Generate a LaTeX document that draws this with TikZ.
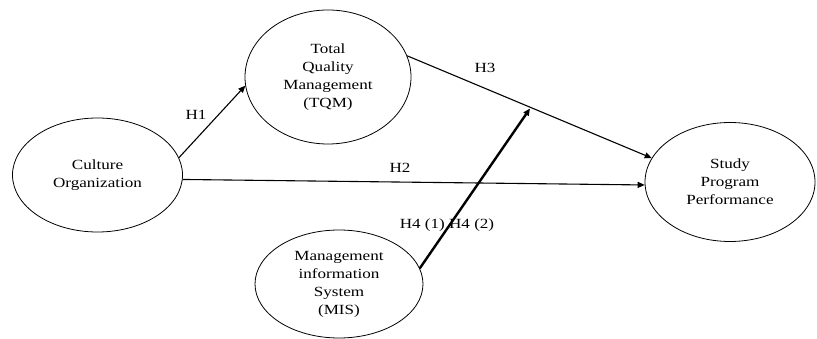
\documentclass[tikz,border=0pt]{standalone}
\usepackage{fontspec}
\setmainfont{Liberation Serif}[FakeStretch=1.22]
\usepackage{tikz}
\usetikzlibrary{arrows.meta, shapes.geometric}

\begin{document}
\begin{tikzpicture}[
    x=1pt, y=-1pt,
    >={Triangle[length=7pt, width=6pt]},
    latent/.style={draw, ellipse, thick, inner sep=0pt, align=center, font=\fontsize{14}{18}\selectfont},
    hyp/.style={font=\fontsize{14}{18}\selectfont},
]
    \useasboundingbox (0,0) rectangle (817,339);
    \node[latent, minimum width=170pt, minimum height=114pt] (culture) at (97.5,175) {Culture\\Organization};
    \node[latent, minimum width=166pt, minimum height=134pt] (tqm) at (328,77) {Total\\Quality\\Management\\(TQM)};
    \node[latent, minimum width=170pt, minimum height=119pt] (spp) at (730,182) {Study\\Program\\Performance};
    \node[latent, minimum width=168pt, minimum height=108pt] (mis) at (339,284) {Management\\information\\System\\(MIS)};
    \coordinate (mod) at (530,108.5);
    \draw[->, line width=1.1pt] (culture.12) -- (tqm.186);
    \draw[->, line width=1.1pt] (culture.-3) -- (spp.182);
    \draw[->, line width=1.1pt] (tqm.15) -- (spp.163);
    \draw[->, line width=2.4pt] (mis.11) -- (mod);
    \node[hyp] (h1) at (196,115) {H1};
    \node[hyp] (h2) at (400,168) {H2};
    \node[hyp] (h3) at (485,68) {H3};
    \node[hyp] (h4) at (447,225) {H4 (1) H4 (2)};
\end{tikzpicture}
\end{document}
